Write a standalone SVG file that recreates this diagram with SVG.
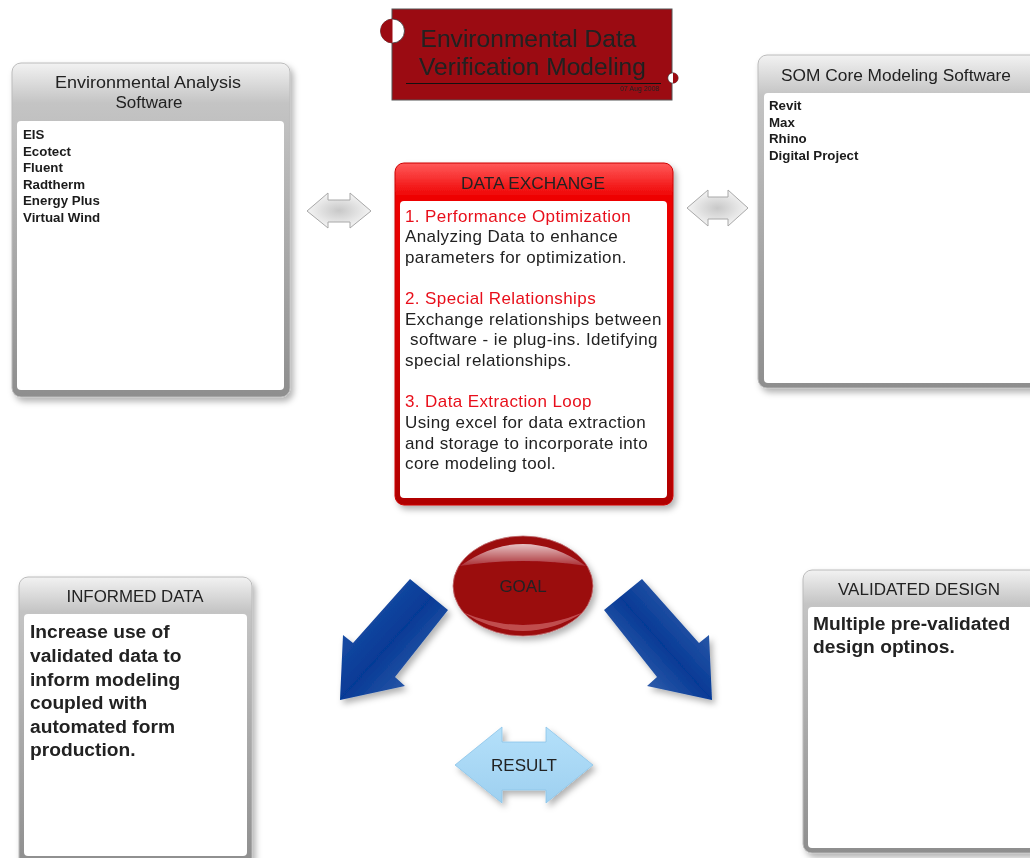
<svg xmlns="http://www.w3.org/2000/svg" width="1030" height="858" viewBox="0 0 1030 858">
<defs>
<style>
text{font-family:"Liberation Sans",Arial,sans-serif;fill:#222}
.hd{font-size:16px;text-anchor:middle}
.li{font-size:13.3px;font-weight:bold;fill:#1a1a1a}
.bt{font-size:17px;letter-spacing:0.4px}
.rd{font-size:17px;letter-spacing:0.4px;fill:#e8101a}
.big{font-size:19.2px;font-weight:bold}
.inner{fill:#fff}
</style>
<linearGradient id="gPanel" x1="0" y1="0" x2="0" y2="1">
<stop offset="0" stop-color="#f2f2f2"/>
<stop offset="0.12" stop-color="#c4c4c4"/>
<stop offset="1" stop-color="#8e8e8e"/>
</linearGradient>
<linearGradient id="gRed" x1="0" y1="0" x2="0" y2="1">
<stop offset="0" stop-color="#ff5a5a"/>
<stop offset="0.1" stop-color="#ee0000"/>
<stop offset="1" stop-color="#b00000"/>
</linearGradient>
<radialGradient id="gGray" cx="0.5" cy="0.5" r="0.5">
<stop offset="0" stop-color="#c8c8c8"/>
<stop offset="1" stop-color="#f4f4f4"/>
</radialGradient>
<linearGradient id="gBlueL" x1="0" y1="0" x2="1" y2="1">
<stop offset="0" stop-color="#2a5db0"/>
<stop offset="0.5" stop-color="#063a96"/>
<stop offset="1" stop-color="#4a73b8"/>
</linearGradient>
<linearGradient id="gBlueR" x1="1" y1="0" x2="0" y2="1">
<stop offset="0" stop-color="#4a73b8"/>
<stop offset="0.5" stop-color="#063a96"/>
<stop offset="1" stop-color="#5a80c0"/>
</linearGradient>
<linearGradient id="gGoalHi" x1="0" y1="0" x2="0" y2="1">
<stop offset="0" stop-color="#fff" stop-opacity="0.75"/>
<stop offset="1" stop-color="#fff" stop-opacity="0.15"/>
</linearGradient>
<linearGradient id="gRes" x1="0" y1="0" x2="0" y2="1">
<stop offset="0" stop-color="#b4e0fa"/>
<stop offset="1" stop-color="#9ed0f0"/>
</linearGradient>
<filter id="sh" x="-10%" y="-10%" width="125%" height="125%">
<feDropShadow dx="3" dy="4" stdDeviation="3" flood-color="#000" flood-opacity="0.3"/>
</filter>
</defs>

<g id="title">
<rect x="392" y="9" width="280" height="91" fill="#9b0b12" stroke="#555" stroke-width="1"/>
<circle cx="392.5" cy="31" r="12" fill="#fff" stroke="#333" stroke-width="0.8"/>
<path d="M392.5,19 A12,12 0 0 0 392.5,43 Z" fill="#9b0b12"/>
<circle cx="673" cy="78" r="5.2" fill="#fff" stroke="#333" stroke-width="0.6"/>
<path d="M673,72.8 A5.2,5.2 0 0 1 673,83.2 Z" fill="#9b0b12"/>
<text x="528" y="47" font-size="24.6" text-anchor="middle" fill="#111">Environmental Data</text>
<text x="532" y="75" font-size="24.6" text-anchor="middle" fill="#111">Verification Modeling</text>
<line x1="406" y1="83.5" x2="661" y2="83.5" stroke="#111" stroke-width="1"/>
<text x="659" y="91" font-size="7" text-anchor="end" fill="#111">07 Aug 2008</text>
</g>

<g id="env-analysis" filter="url(#sh)">
<rect x="12" y="63" width="278" height="334" rx="9" fill="url(#gPanel)" stroke="#bbb"/>
<rect x="17" y="121" width="267" height="269" rx="4" class="inner"/>
<text x="148" y="88" class="hd" font-size="17" textLength="186" lengthAdjust="spacingAndGlyphs">Environmental Analysis</text>
<text x="149" y="108" class="hd" font-size="17" textLength="67" lengthAdjust="spacingAndGlyphs">Software</text>
<text x="23" y="139" class="li">EIS</text>
<text x="23" y="156" class="li">Ecotect</text>
<text x="23" y="172" class="li">Fluent</text>
<text x="23" y="189" class="li">Radtherm</text>
<text x="23" y="205" class="li">Energy Plus</text>
<text x="23" y="222" class="li">Virtual Wind</text>
</g>

<g id="som-core" filter="url(#sh)">
<rect x="758" y="55" width="290" height="333" rx="9" fill="url(#gPanel)" stroke="#bbb"/>
<rect x="764" y="93" width="280" height="290" rx="4" class="inner"/>
<text x="896" y="81" class="hd" font-size="17" textLength="230" lengthAdjust="spacingAndGlyphs">SOM Core Modeling Software</text>
<text x="769" y="110" class="li">Revit</text>
<text x="769" y="127" class="li">Max</text>
<text x="769" y="143" class="li">Rhino</text>
<text x="769" y="160" class="li">Digital Project</text>
</g>

<g id="data-exchange" filter="url(#sh)">
<rect x="395" y="163" width="278" height="342" rx="9" fill="url(#gRed)" stroke="#c00"/>
<rect x="400" y="201" width="267" height="297" rx="4" class="inner"/>
<text x="533" y="189" class="hd" font-size="16" textLength="144" lengthAdjust="spacingAndGlyphs">DATA EXCHANGE</text>
<text x="405" y="222" class="rd">1. Performance Optimization</text>
<text x="405" y="242" class="bt">Analyzing Data to enhance</text>
<text x="405" y="263" class="bt">parameters for optimization.</text>
<text x="405" y="304" class="rd">2. Special Relationships</text>
<text x="405" y="325" class="bt">Exchange relationships between</text>
<text x="410" y="345" class="bt">software - ie plug-ins. Idetifying</text>
<text x="405" y="366" class="bt">special relationships.</text>
<text x="405" y="407" class="rd">3. Data Extraction Loop</text>
<text x="405" y="428" class="bt">Using excel for data extraction</text>
<text x="405" y="449" class="bt">and storage to incorporate into</text>
<text x="405" y="469" class="bt">core modeling tool.</text>
</g>

<g id="goal" filter="url(#sh)">
<ellipse cx="523" cy="586" rx="70" ry="50" fill="#9b0a10" stroke="#c07070" stroke-width="0.8"/>
<path d="M460,566 Q523,522 586,566 Q523,556 460,566 Z" fill="url(#gGoalHi)"/>
<path d="M462,612 Q523,650 584,612 Q523,638 462,612 Z" fill="#d06a6a" fill-opacity="0.7"/>
<text x="523" y="592" font-size="17" text-anchor="middle" fill="#2a2a2a">GOAL</text>
</g>

<g id="informed-data" filter="url(#sh)">
<rect x="19" y="577" width="233" height="290" rx="9" fill="url(#gPanel)" stroke="#bbb"/>
<rect x="24" y="614" width="223" height="242" rx="4" class="inner"/>
<text x="135" y="602" class="hd" font-size="16" textLength="137" lengthAdjust="spacingAndGlyphs">INFORMED DATA</text>
<text x="30" y="638" class="big">Increase use of</text>
<text x="30" y="662" class="big">validated data to</text>
<text x="30" y="686" class="big">inform modeling</text>
<text x="30" y="709" class="big">coupled with</text>
<text x="30" y="733" class="big">automated form</text>
<text x="30" y="756" class="big">production.</text>
</g>

<g id="validated-design" filter="url(#sh)">
<rect x="803" y="570" width="245" height="283" rx="9" fill="url(#gPanel)" stroke="#bbb"/>
<rect x="808" y="607" width="236" height="241" rx="4" class="inner"/>
<text x="919" y="595" class="hd" font-size="16.5" textLength="162" lengthAdjust="spacingAndGlyphs">VALIDATED DESIGN</text>
<text x="813" y="630" class="big">Multiple pre-validated</text>
<text x="813" y="653" class="big">design optinos.</text>
</g>

<g id="result" filter="url(#sh)">
<polygon points="455,765 502,727 502,742 546,742 546,727 593,765 546,803 546,790 502,790 502,803" fill="url(#gRes)" stroke="#8cc4e8" stroke-width="0.8"/>
<text x="524" y="771" font-size="17" text-anchor="middle" fill="#1a1a1a">RESULT</text>
</g>

<g id="connectors">
<polygon points="307,211 328,193 328,200 350,200 350,193 371,211 350,228 350,222 328,222 328,228" fill="url(#gGray)" stroke="#a8a8a8" stroke-width="1"/>
<polygon points="687,208 708,190 708,197 728,197 728,190 748,208 728,226 728,219 708,219 708,226" fill="url(#gGray)" stroke="#a8a8a8" stroke-width="1"/>
<g filter="url(#sh)">
<polygon points="410,579 448,610 395,677 405,686 340,700 343,635 353,643" fill="url(#gBlueL)"/>
<polygon points="642,579 604,610 657,677 647,686 712,700 709,635 699,643" fill="url(#gBlueR)"/>
</g>
</g>
</svg>
